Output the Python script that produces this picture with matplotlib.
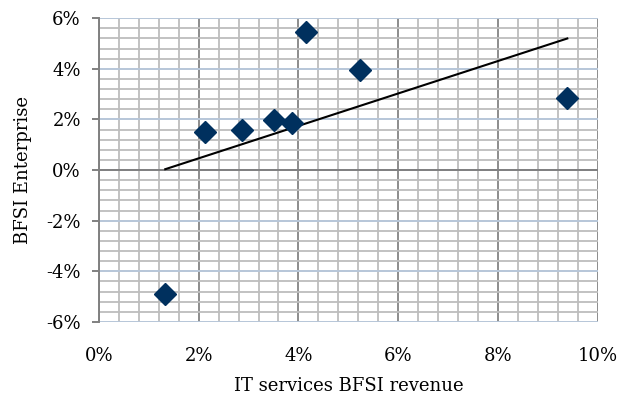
import matplotlib.pyplot as plt
import numpy as np
from matplotlib.ticker import MultipleLocator, FuncFormatter

# Dados (%)
it_bfsi = [1.33, 2.12, 2.87, 3.52, 3.88, 4.16, 5.24, 9.39]
bfsi_ent = [-4.90, 1.52, 1.59, 1.98, 1.85, 5.44, 3.97, 2.83]

plt.rcParams['font.family'] = ['DejaVu Serif']

fig = plt.figure(figsize=(6.22, 4.03), dpi=100)
ax = fig.add_axes([0.159, 0.201, 0.802, 0.754])

ax.set_xlim(0, 10)
ax.set_ylim(-6, 6)
ax.xaxis.set_major_locator(MultipleLocator(2))
ax.yaxis.set_major_locator(MultipleLocator(2))
ax.xaxis.set_minor_locator(MultipleLocator(0.4))
ax.yaxis.set_minor_locator(MultipleLocator(0.4))
pct = FuncFormatter(lambda v, p: "%d%%" % round(v))
ax.xaxis.set_major_formatter(pct)
ax.yaxis.set_major_formatter(pct)

# Grade
ax.grid(which='minor', color='#bdbdbd', lw=1.3)
ax.grid(which='major', axis='x', color='#8c8c8c', lw=1.4)
ax.grid(which='major', axis='y', color='#b7c6d8', lw=1.4)
ax.set_axisbelow(True)
ax.axhline(0, color='#808080', lw=1.4, zorder=1)

for s in ['top', 'right', 'bottom']:
    ax.spines[s].set_visible(False)
ax.spines['left'].set_color('#808080')
ax.spines['left'].set_linewidth(1.4)
ax.tick_params(axis='y', which='major', length=5, color='#808080', width=1.4, labelsize=13, pad=8)
ax.tick_params(axis='x', which='major', length=0, labelsize=13, pad=18)
ax.tick_params(which='minor', length=0)

# Linha de tendência
a, b = np.polyfit(it_bfsi, bfsi_ent, 1)
xl = np.array([min(it_bfsi), max(it_bfsi)])
ax.plot(xl, a*xl + b, color='black', lw=1.5, zorder=3)

ax.plot(it_bfsi, bfsi_ent, 'D', color='#00305e', ms=11, mec='#00305e', zorder=4)

ax.set_xlabel("IT services BFSI revenue", fontsize=13, labelpad=9)
ax.set_ylabel("BFSI Enterprise", fontsize=13, labelpad=10)

fig.savefig("out.png", dpi=100)
